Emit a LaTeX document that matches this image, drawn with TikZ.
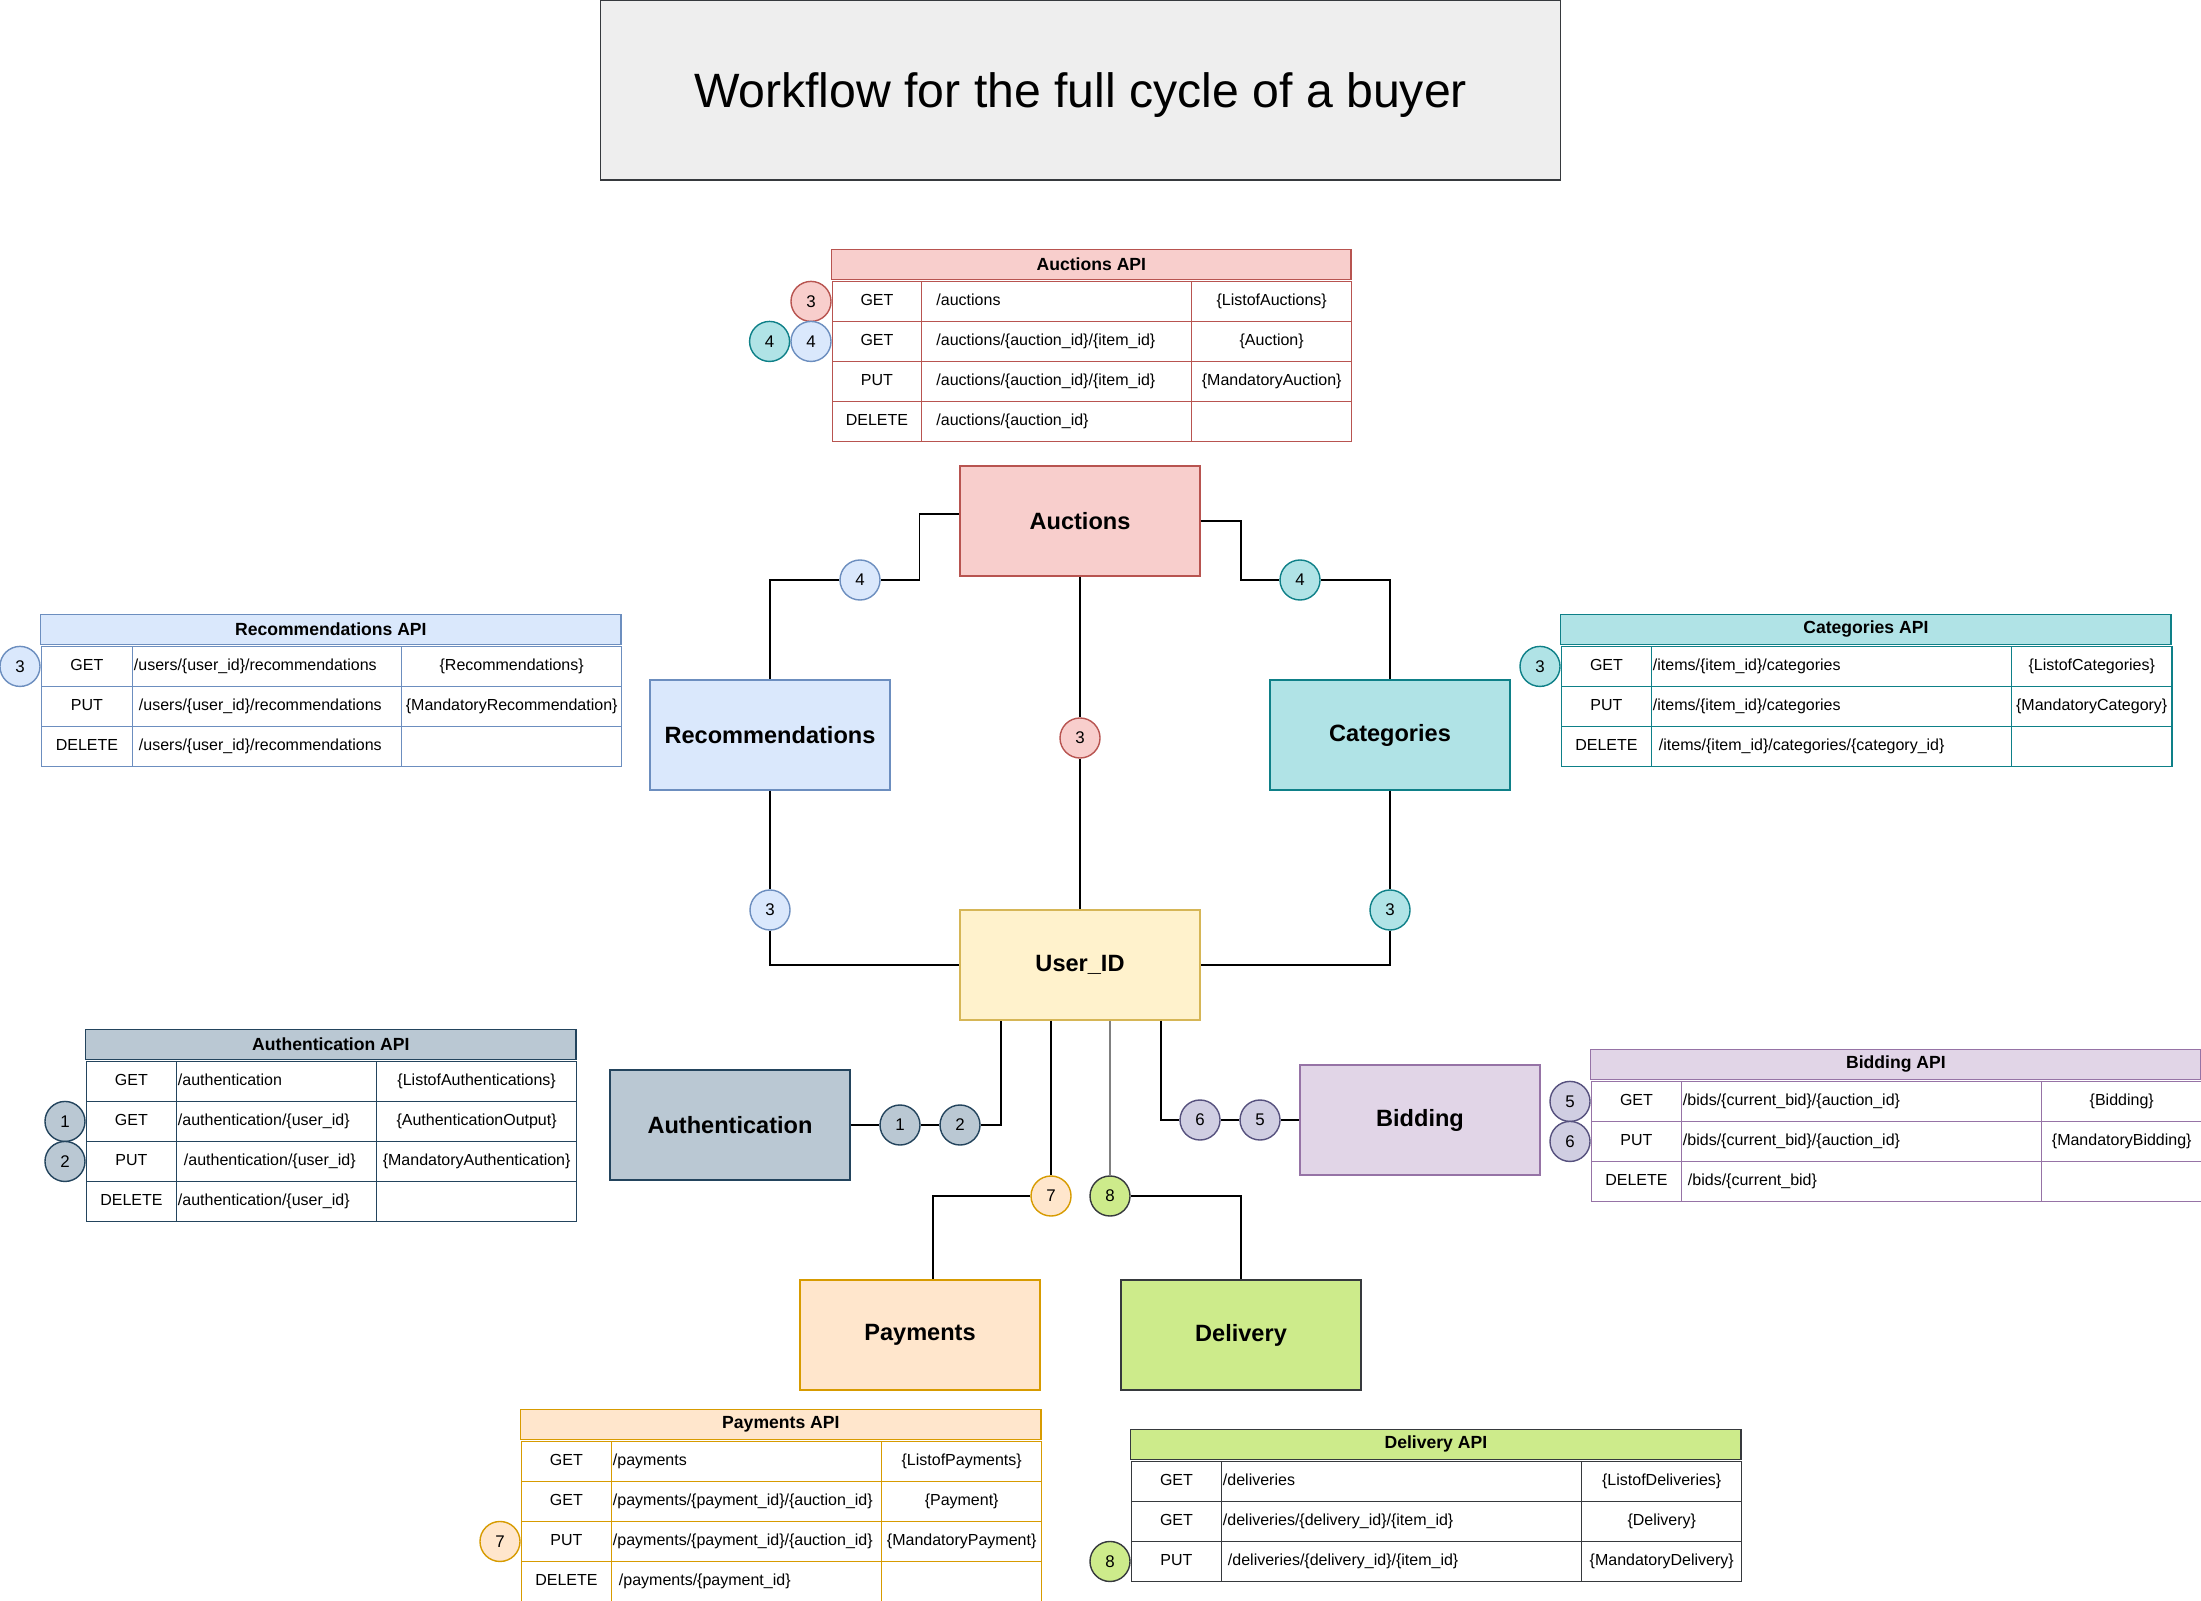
\documentclass[tikz,border=0pt]{standalone}
\usepackage{fontspec}
\setmainfont{Liberation Sans}
\usepackage{tikz}
\usetikzlibrary{matrix,positioning}

\definecolor{titlefill}{HTML}{EEEEEE} \definecolor{titleline}{HTML}{36393D}
\definecolor{aucfill}{HTML}{F8CECC}   \definecolor{aucline}{HTML}{B85450}
\definecolor{recfill}{HTML}{DAE8FC}   \definecolor{recline}{HTML}{6C8EBF}
\definecolor{catfill}{HTML}{B0E3E6}   \definecolor{catline}{HTML}{0E8088}
\definecolor{uidfill}{HTML}{FFF2CC}   \definecolor{uidline}{HTML}{D6B656}
\definecolor{authfill}{HTML}{BAC8D3}  \definecolor{authline}{HTML}{23445D}
\definecolor{bidfill}{HTML}{E1D5E7}   \definecolor{bidline}{HTML}{9673A6}
\definecolor{bbdfill}{HTML}{D0CEE2}   \definecolor{bbdline}{HTML}{56517E}
\definecolor{payfill}{HTML}{FFE6CC}   \definecolor{payline}{HTML}{D79B00}
\definecolor{delfill}{HTML}{CDEB8B}   \definecolor{delline}{HTML}{36393D}

\newcommand{\titletext}{\fontsize{13.7pt}{16pt}\selectfont}
\newcommand{\boxtext}{\fontsize{6.7pt}{8pt}\selectfont\bfseries}
\newcommand{\headtext}{\fontsize{5pt}{6pt}\selectfont\bfseries}
\newcommand{\celltext}{\fontsize{4.55pt}{5.5pt}\selectfont}
\newcommand{\badgetext}{\fontsize{4.8pt}{6pt}\selectfont}

\tikzset{
  block/.style={draw=#1line, fill=#1fill, minimum width=2.4cm, minimum height=1.1cm, font=\boxtext},
  badge/.style={circle, draw=#1line, fill=#1fill, minimum size=0.4cm, inner sep=0pt, font=\badgetext},
  apihead/.style={draw=#1line, fill=#1fill, minimum height=0.3cm, inner sep=0pt, font=\headtext, anchor=south west},
  apitable/.style={matrix of nodes, nodes in empty cells, ampersand replacement=\&,
    row sep=-\pgflinewidth, column sep=-\pgflinewidth, inner sep=0pt, anchor=north west,
    nodes={draw=#1line, anchor=center, minimum height=0.4cm, inner ysep=0pt, inner xsep=0.015cm,
      text height=0.12cm, text depth=0.035cm, font=\celltext}},
  cols/.style n args={5}{column 1/.style={nodes={minimum width=#1}},
    column 2/.style={nodes={minimum width=#2, inner xsep=#3, text width=#4, align=left}},
    column 3/.style={nodes={minimum width=#5}}},
}

\begin{document}
\begin{tikzpicture}[x=0.01cm,y=-0.01cm]
  \path[use as bounding box, fill=white] (0,0) rectangle (2201,1601);

  \node[draw=titleline, fill=titlefill, minimum width=9.59cm, minimum height=1.8cm, text depth=0pt, font=\titletext]
    (title) at (1080.5,90) {Workflow for the full cycle of a buyer};

  % services
  \foreach \nm/\x/\y/\clr/\txt in {auc/1080/521/auc/Auctions, rec/770/735/rec/Recommendations,
      cat/1390/735/cat/Categories, uid/1080/965/uid/User\_ID, auth/730/1125/auth/Authentication,
      bid/1420/1120/bid/Bidding, pay/920/1335/pay/Payments, del/1241/1335/del/Delivery}
    \node[block=\clr] (\nm) at (\x,\y) {\txt};

  % step numbers on the links
  \foreach \nm/\x/\y/\clr/\n in {b4r/860/580/rec/4, b4c/1300/580/cat/4, b3a/1080/738/auc/3,
      b3r/770/910/rec/3, b3c/1390/910/cat/3, b1/900/1125/auth/1, b2/960/1125/auth/2,
      b6/1200/1120/bbd/6, b5/1260/1120/bbd/5, b7/1051/1196/pay/7, b8/1110/1196/del/8}
    \node[badge=\clr] (\nm) at (\x,\y) {\n};

  \draw ([yshift=.07cm]auc.west) -- ++(-40,0) |- (b4r);
  \draw (b4r) -| (rec);
  \draw (auc.east) -- ++(40,0) |- (b4c);
  \draw (b4c) -| (cat);
  \draw (auc) -- (b3a) -- (uid);
  \draw (rec) -- (b3r) |- (uid);
  \draw (cat) -- (b3c) |- (uid);
  \draw (auth) -- (b1) -- (b2) -| ([xshift=-.79cm]uid.south);
  \draw ([xshift=.81cm]uid.south) |- (b6) -- (b5) -- (bid);
  \draw (uid.south -| b7) -- (b7) -| ([xshift=.13cm]pay.north);
  \draw[gray] (uid.south -| b8) -- (b8);
  \draw (b8) -| (del);

  % API tables
  \matrix (aucT) [apitable=auc, cols={0.89cm}{2.7cm}{0.15cm}{2.4cm}{1.6cm}] at (831,280) {
    GET \& /auctions \& \{ListofAuctions\} \\
    GET \& /auctions/\{auction\_id\}/\{item\_id\} \& \{Auction\} \\
    PUT \& /auctions/\{auction\_id\}/\{item\_id\} \& \{MandatoryAuction\} \\
    DELETE \& /auctions/\{auction\_id\} \& \\
  };
  \node[apihead=auc, minimum width=5.19cm] (aucH) at (aucT.north west) {Auctions API};
  \node[badge=auc, anchor=east] (aucB3) at (aucT-1-1.west) {3};
  \node[badge=rec, anchor=east] (aucB4a) at (aucT-2-1.west) {4};
  \node[badge=cat, left=0pt of aucB4a] (aucB4b) {4};

  \matrix (recT) [apitable=rec, cols={0.91cm}{2.69cm}{0.015cm}{2.66cm}{2.2cm}] at (40,645) {
    GET \& /users/\{user\_id\}/recommendations \& \{Recommendations\} \\
    PUT \& \hspace*{.05cm}/users/\{user\_id\}/recommendations \& \{MandatoryRecommendation\} \\
    DELETE \& \hspace*{.05cm}/users/\{user\_id\}/recommendations \& \\
  };
  \node[apihead=rec, minimum width=5.8cm] (recH) at (recT.north west) {Recommendations API};
  \node[badge=rec, anchor=east] (recB3) at (recT-1-1.west) {3};

  \matrix (catT) [apitable=cat, cols={0.9cm}{3.6cm}{0.015cm}{3.57cm}{1.6cm}] at (1560,645) {
    GET \& /items/\{item\_id\}/categories \& \{ListofCategories\} \\
    PUT \& /items/\{item\_id\}/categories \& \{MandatoryCategory\} \\
    DELETE \& \hspace*{.06cm}/items/\{item\_id\}/categories/\{category\_id\} \& \\
  };
  \node[apihead=cat, minimum width=6.1cm] (catH) at (catT.north west) {Categories API};
  \node[badge=cat, anchor=east] (catB3) at (catT-1-1.west) {3};

  \matrix (authT) [apitable=auth, cols={0.9cm}{2cm}{0.015cm}{1.97cm}{2cm}] at (85,1060) {
    GET \& /authentication \& \{ListofAuthentications\} \\
    GET \& /authentication/\{user\_id\} \& \{AuthenticationOutput\} \\
    PUT \& \hspace*{.06cm}/authentication/\{user\_id\} \& \{MandatoryAuthentication\} \\
    DELETE \& /authentication/\{user\_id\} \& \\
  };
  \node[apihead=auth, minimum width=4.9cm] (authH) at (authT.north west) {Authentication API};
  \node[badge=auth, anchor=east] (authB1) at (authT-2-1.west) {1};
  \node[badge=auth, anchor=east] (authB2) at (authT-3-1.west) {2};

  \matrix (bidT) [apitable=bid, cols={0.9cm}{3.6cm}{0.015cm}{3.57cm}{1.6cm}] at (1590,1080) {
    GET \& /bids/\{current\_bid\}/\{auction\_id\} \& \{Bidding\} \\
    PUT \& /bids/\{current\_bid\}/\{auction\_id\} \& \{MandatoryBidding\} \\
    DELETE \& \hspace*{.05cm}/bids/\{current\_bid\} \& \\
  };
  \node[apihead=bid, minimum width=6.1cm] (bidH) at (bidT.north west) {Bidding API};
  \node[badge=bbd, anchor=east] (bidB5) at (bidT-1-1.west) {5};
  \node[badge=bbd, anchor=east] (bidB6) at (bidT-2-1.west) {6};

  \matrix (payT) [apitable=pay, cols={0.9cm}{2.7cm}{0.015cm}{2.67cm}{1.6cm}] at (520,1440) {
    GET \& /payments \& \{ListofPayments\} \\
    GET \& /payments/\{payment\_id\}/\{auction\_id\} \& \{Payment\} \\
    PUT \& /payments/\{payment\_id\}/\{auction\_id\} \& \{MandatoryPayment\} \\
    DELETE \& \hspace*{.06cm}/payments/\{payment\_id\} \& \\
  };
  \node[apihead=pay, minimum width=5.2cm] (payH) at (payT.north west) {Payments API};
  \node[badge=pay, anchor=east] (payB7) at (payT-3-1.west) {7};

  \matrix (delT) [apitable=del, cols={0.9cm}{3.6cm}{0.015cm}{3.57cm}{1.6cm}] at (1130,1460) {
    GET \& /deliveries \& \{ListofDeliveries\} \\
    GET \& /deliveries/\{delivery\_id\}/\{item\_id\} \& \{Delivery\} \\
    PUT \& \hspace*{.05cm}/deliveries/\{delivery\_id\}/\{item\_id\} \& \{MandatoryDelivery\} \\
  };
  \node[apihead=del, minimum width=6.1cm] (delH) at (delT.north west) {Delivery API};
  \node[badge=del, anchor=east] (delB8) at (delT-3-1.west) {8};
\end{tikzpicture}
\end{document}
